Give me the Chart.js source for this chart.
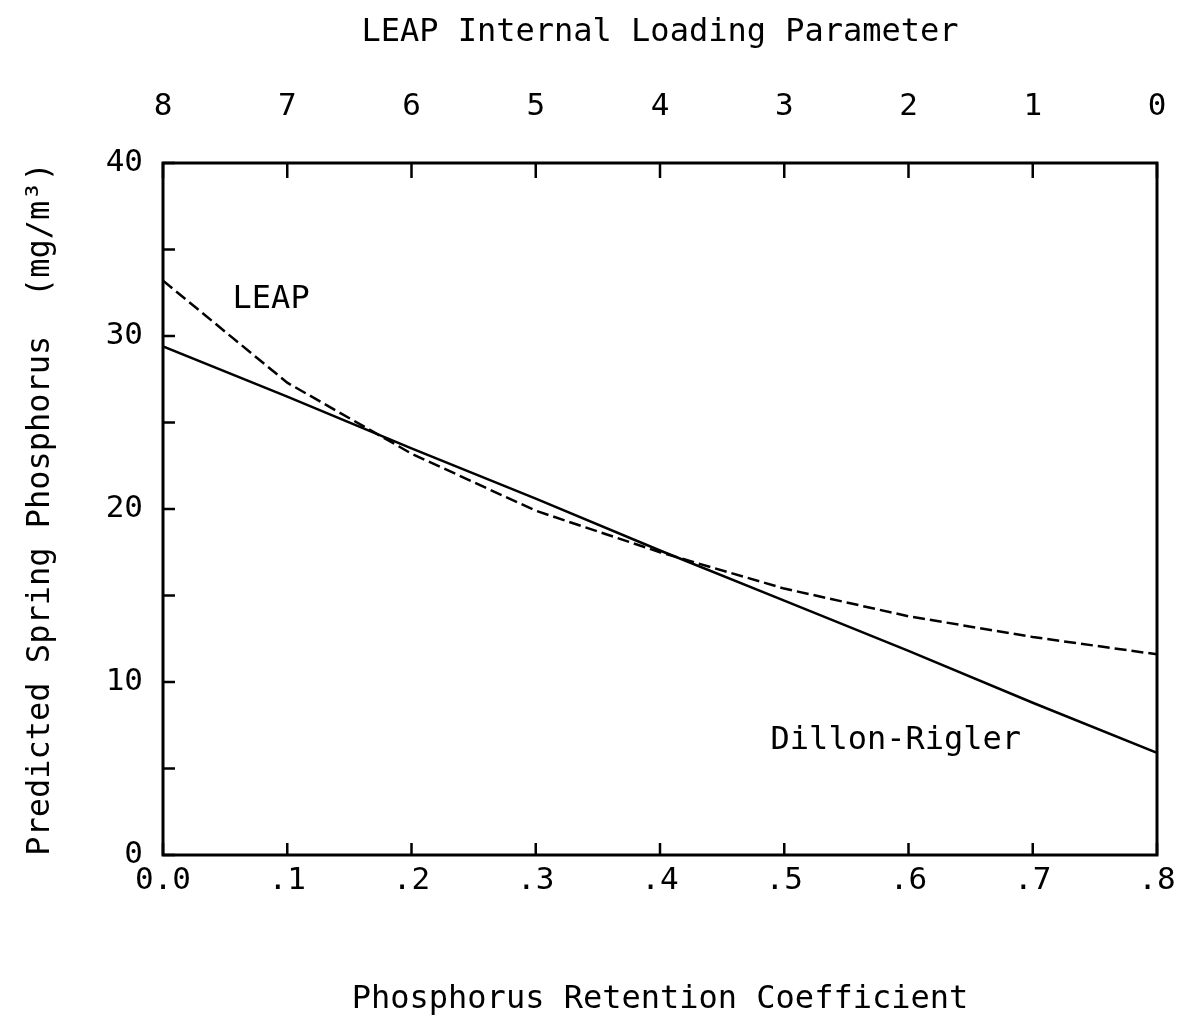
<!DOCTYPE html>
<html>
<head>
<meta charset="utf-8">
<script src="https://cdn.jsdelivr.net/npm/chart.js@4/dist/chart.umd.min.js"></script>
<style>
	body{margin:0;background:#fff;}
	#chart{display:block;}
</style>
</head>
<body>
<canvas id="chart" width="1191" height="1033"></canvas>
<script>
// retention coefficient (bottom axis) and predicted spring P (mg/m3)
var retention=[0,0.1,0.2,0.3,0.4,0.5,0.6,0.7,0.8];
var leap=[33.2,27.3,23.2,19.9,17.5,15.4,13.8,12.6,11.6];
var dillonRigler=[29.4,26.5,23.5,20.6,17.6,14.7,11.8,8.8,5.9];
// curve labels drawn inside the plot, in data units
var curveLabels=[
	{text:"LEAP",x:0.056,y:32.1},
	{text:"Dillon-Rigler",x:0.489,y:6.6}
];

var FONT="'DejaVu Sans Mono', monospace";

function pts(ys){
	var out=[];
	for(var i in retention){
		out.push({x:retention[i],y:ys[i]});
	}
	return out;
}

// frame, inward tick marks and the curve labels
var framePlugin={
	id:"frame",
	afterDraw:function(chart){
		var ctx=chart.ctx;
		var a=chart.chartArea;
		var sx=chart.scales.x, sx2=chart.scales.x2, sy=chart.scales.y;
		var len=12;
		ctx.save();
		ctx.strokeStyle="#000";
		ctx.lineWidth=3;
		ctx.strokeRect(a.left,a.top,a.right-a.left,a.bottom-a.top);
		ctx.lineWidth=2.5;
		ctx.beginPath();
		sx.ticks.forEach(function(t){
			var p=sx.getPixelForValue(t.value);
			ctx.moveTo(p,a.bottom);ctx.lineTo(p,a.bottom-len);
		});
		sx2.ticks.forEach(function(t){
			var p=sx2.getPixelForValue(t.value);
			ctx.moveTo(p,a.top);ctx.lineTo(p,a.top+len+3);
		});
		sy.ticks.forEach(function(t){
			var p=sy.getPixelForValue(t.value);
			ctx.moveTo(a.left,p);ctx.lineTo(a.left+len,p);
		});
		ctx.stroke();
		ctx.fillStyle="#000";
		ctx.font="32px "+FONT;
		ctx.textBaseline="middle";
		ctx.textAlign="left";
		curveLabels.forEach(function(l){
			ctx.fillText(l.text,sx.getPixelForValue(l.x),sy.getPixelForValue(l.y));
		});
		ctx.restore();
	}
};

function noSidePad(s){
	s.paddingLeft=0;
	s.paddingRight=0;
}

var ctx=document.getElementById("chart");
var chart=new Chart(ctx,{
	type:"line",
	data:{
		datasets:[
		{
			label:"LEAP",
			data:pts(leap),
			borderColor:"#000",
			borderWidth:2.5,
			borderDash:[12,5],
			pointRadius:0,
			tension:0
		},
		{
			label:"Dillon-Rigler",
			data:pts(dillonRigler),
			borderColor:"#000",
			borderWidth:2.5,
			pointRadius:0,
			tension:0
		}
		]
	},
	options:{
		responsive:false,
		animation:false,
		layout:{padding:{left:0,right:34,top:0,bottom:0}},
		plugins:{legend:{display:false},tooltip:{enabled:false}},
		scales:{
			x:{
				type:"linear",
				position:"bottom",
				min:0,max:0.8,
				grid:{display:false,drawTicks:false},
				border:{display:false},
				ticks:{
					stepSize:0.1,
					padding:7,
					color:"#000",
					font:{family:FONT,size:31},
					maxRotation:0,
					callback:function(v){
						var n=Math.round(v*10);
						return n===0?"0.0":"."+n;
					}
				},
				title:{
					display:true,
					text:"Phosphorus Retention Coefficient",
					color:"#000",
					font:{family:FONT,size:32},
					padding:{top:0,bottom:14}
				},
				afterFit:function(s){s.height=178;noSidePad(s);}
			},
			x2:{
				type:"linear",
				position:"top",
				min:0,max:8,
				reverse:true,
				grid:{display:false,drawTicks:false},
				border:{display:false},
				ticks:{
					stepSize:1,
					padding:37,
					color:"#000",
					font:{family:FONT,size:31},
					maxRotation:0
				},
				title:{
					display:true,
					text:"LEAP Internal Loading Parameter",
					color:"#000",
					font:{family:FONT,size:32},
					padding:{top:13,bottom:0}
				},
				afterFit:function(s){s.height=163;noSidePad(s);}
			},
			y:{
				type:"linear",
				min:0,max:40,
				grid:{display:false,drawTicks:false},
				border:{display:false},
				ticks:{
					stepSize:5,
					padding:20,
					color:"#000",
					font:{family:FONT,size:31},
					callback:function(v){
						return v%10===0?String(v):"";
					}
				},
				title:{
					display:true,
					text:"Predicted Spring Phosphorus  (mg/m³)",
					color:"#000",
					font:{family:FONT,size:32},
					padding:{top:21,bottom:0}
				},
				afterFit:function(s){s.width=163;}
			}
		}
	},
	plugins:[framePlugin]
});
</script>
</body>
</html>
